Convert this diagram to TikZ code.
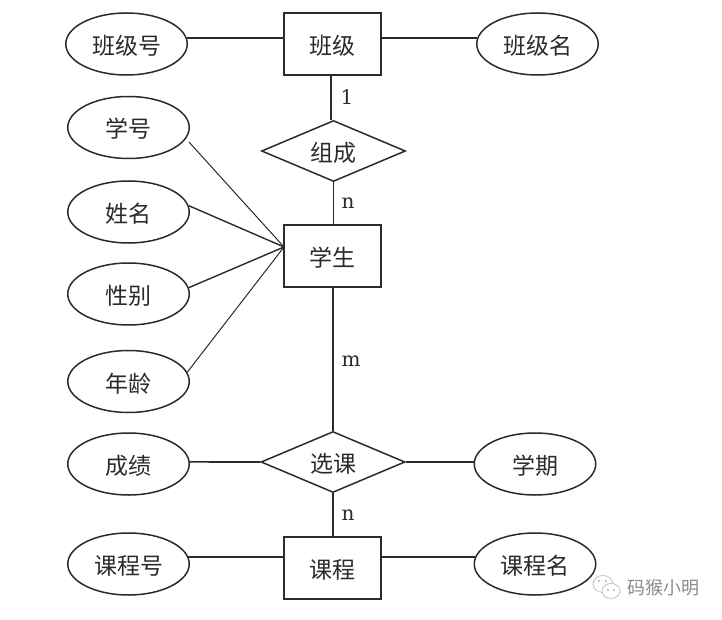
\documentclass[tikz,border=0pt]{standalone}
\usepackage{fontspec}
\setmainfont{DejaVu Serif}
\newfontfamily\cjk{Noto Sans CJK SC}
\usetikzlibrary{shapes.geometric}
\definecolor{ink}{HTML}{2A2A2A}
\definecolor{wmgray}{HTML}{8A8A8A}
\tikzset{
  base/.style={draw=ink,line width=1.5pt,inner sep=0pt,text=ink,text height=23pt,text depth=2pt,font=\cjk\fontsize{23}{25}\selectfont},
  attr/.style={base,ellipse,minimum width=121.5pt,minimum height=62pt},
  entity/.style={base,rectangle,line width=2pt,minimum width=97pt,minimum height=62pt},
  rel/.style={base,diamond,shape aspect=2.36,minimum width=144pt,minimum height=61pt},
  link/.style={draw=ink,line width=1.7pt},
  thin link/.style={draw=ink,line width=1pt},
  card/.style={text=ink,inner sep=0pt,font=\fontsize{20}{22}\selectfont},
  bubble/.style={draw=wmgray!70,line width=0.7pt,dash pattern=on 2pt off 0.6pt},
}
\begin{document}
\begin{tikzpicture}[x=1pt,y=-1pt]
\useasboundingbox (0,0) rectangle (722,620);
\node[attr] (a1) at (126.5,44) {班级号};
\node[entity] (e1) at (332.5,44) {班级};
\node[attr] (a2) at (537.5,44) {班级名};
\node[rel] (r1) at (333.5,151) {组成};
\node[attr] (s1) at (128.5,127.5) {学号};
\node[attr] (s2) at (128.5,212) {姓名};
\node[attr] (s3) at (128.5,294) {性别};
\node[attr] (s4) at (128.5,381.5) {年龄};
\node[entity] (e2) at (332.5,256) {学生};
\node[rel] (r2) at (333,462) {选课};
\node[attr] (g1) at (128.5,464) {成绩};
\node[attr] (g2) at (535,464) {学期};
\node[entity] (e3) at (332.5,568) {课程};
\node[attr] (c1) at (128.5,564) {课程号};
\node[attr] (c2) at (535,564) {课程名};
\coordinate (hub) at (284,247);
\draw[link] (a1.6) -- (e1.west |- a1.6);
\draw[link] (e1.east |- a2.174) -- (a2.174);
\draw[link] ([xshift=-1.5pt]e1.south) -- ([xshift=-1.5pt]e1.south |- r1.north);
\draw[thin link,line width=1.5pt] (r1.south) -- (e2.north -| r1.south);
\draw[link] (e2.south -| r2.north) -- (r2.north);
\draw[link] (r2.south) -- (e3.north -| r2.south);
\draw[thin link] ([xshift=6pt]s1.-15) -- (hub);
\draw[link,line width=1.4pt] (s2.6.6) -- (hub);
\draw[link,line width=1.4pt] (s3.6.6) -- (hub);
\draw[thin link] (s4.9) -- (hub);
\draw[link] (g1.2) -- (r2.west);
\draw[link] (r2.east) -- (g2.west |- r2.east);
\draw[link] (c1.7) -- (e3.west |- c1.7);
\draw[link] (e3.east |- c2.173) -- (c2.173);
\node[card] (n1) at (347,97) {1};
\node[card] (n2) at (348,203) {n};
\node[card] (n3) at (351,361) {m};
\node[card] (n4) at (348,515) {n};
\node[inner sep=0pt,text=wmgray,font=\cjk\fontsize{18}{20}\selectfont] (wm) at (663,588) {码猴小明};
\draw[bubble] (603,584) ellipse (10pt and 8.5pt);
\draw[bubble,fill=white] (611,591) ellipse (9pt and 7.5pt);
\fill[wmgray] (599,581) circle (0.9pt) (606,581) circle (0.9pt) (608,590) circle (0.8pt) (614,590) circle (0.8pt);
\end{tikzpicture}
\end{document}
